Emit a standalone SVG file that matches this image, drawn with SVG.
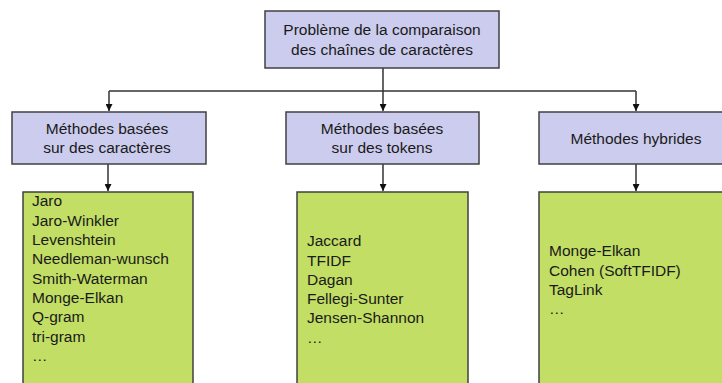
<svg xmlns="http://www.w3.org/2000/svg" width="722" height="383" viewBox="0 0 722 383">
<defs>
<style>
text{font-family:"Liberation Sans",Arial,sans-serif;font-size:15.5px;fill:#1a1a1a}
.c{text-anchor:middle}
.hdr{fill:#ccccee;stroke:#404040;stroke-width:1.5}
.lst{fill:#c2de64;stroke:#404040;stroke-width:1.5}
.ln{fill:none;stroke:#333;stroke-width:1.5}
</style>
<marker id="ah" viewBox="0 0 10 10" refX="10" refY="5" markerWidth="7" markerHeight="7" markerUnits="userSpaceOnUse" orient="auto"><path d="M0,0L10,5L0,10z" fill="#111"/></marker>
</defs>
<rect width="722" height="383" fill="#fff"/>
<g id="connectors">
<path class="ln" d="M109,91H636"/>
<path class="ln" d="M383,68V111" marker-end="url(#ah)"/>
<path class="ln" d="M109,91V111" marker-end="url(#ah)"/>
<path class="ln" d="M636,91V111" marker-end="url(#ah)"/>
<path class="ln" d="M108,164V191" marker-end="url(#ah)"/>
<path class="ln" d="M383,164V191" marker-end="url(#ah)"/>
<path class="ln" d="M636,164V191" marker-end="url(#ah)"/>
</g>
<g id="root">
<rect class="hdr" x="265" y="11" width="234" height="57"/>
<text class="c" x="382" y="35">Problème de la comparaison</text>
<text class="c" x="382" y="55">des chaînes de caractères</text>
</g>
<g id="cat-caracteres">
<rect class="hdr" x="12" y="112" width="194" height="52"/>
<text class="c" x="107" y="134">Méthodes basées</text>
<text class="c" x="107" y="153">sur des caractères</text>
</g>
<g id="cat-tokens">
<rect class="hdr" x="286" y="112" width="193" height="52"/>
<text class="c" x="382" y="134">Méthodes basées</text>
<text class="c" x="382" y="153">sur des tokens</text>
</g>
<g id="cat-hybrides">
<rect class="hdr" x="539" y="112" width="194" height="52"/>
<text class="c" x="636" y="144">Méthodes hybrides</text>
</g>
<g id="list-caracteres">
<rect class="lst" x="23" y="192" width="170" height="200"/>
<text x="32" y="206">Jaro</text>
<text x="32" y="225.5">Jaro-Winkler</text>
<text x="32" y="245">Levenshtein</text>
<text x="32" y="264">Needleman-wunsch</text>
<text x="32" y="283.5">Smith-Waterman</text>
<text x="32" y="303">Monge-Elkan</text>
<text x="32" y="322">Q-gram</text>
<text x="32" y="341.5">tri-gram</text>
<text x="32" y="361">…</text>
</g>
<g id="list-tokens">
<rect class="lst" x="297" y="192" width="171" height="200"/>
<text x="307" y="246">Jaccard</text>
<text x="307" y="265.5">TFIDF</text>
<text x="307" y="285">Dagan</text>
<text x="307" y="304">Fellegi-Sunter</text>
<text x="307" y="323">Jensen-Shannon</text>
<text x="307" y="343">…</text>
</g>
<g id="list-hybrides">
<rect class="lst" x="539" y="192" width="200" height="200"/>
<text x="549" y="256">Monge-Elkan</text>
<text x="549" y="275.5">Cohen (SoftTFIDF)</text>
<text x="549" y="295">TagLink</text>
<text x="549" y="314">…</text>
</g>
</svg>
